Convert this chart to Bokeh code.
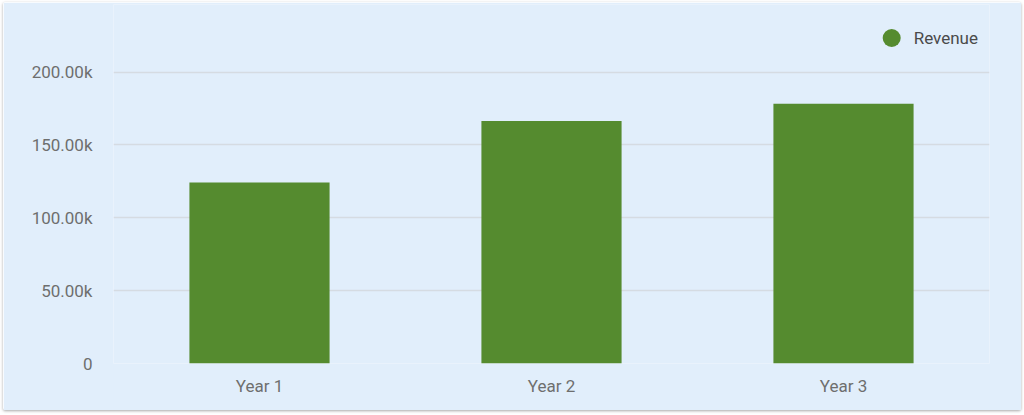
from bokeh.plotting import figure
from bokeh.models import Range1d, FixedTicker, Legend, LegendItem, ColumnDataSource
from bokeh.embed import file_html
from bokeh.resources import INLINE

# ---- data ----
categories = ["Year 1", "Year 2", "Year 3"]
revenue = [124200, 166400, 178200]
series_name = "Revenue"
y_ticks = [0, 50000, 100000, 150000, 200000]
y_tick_labels = ["0", "50.00k", "100.00k", "150.00k", "200.00k"]

BG = "#e1eefb"
BAR = "#558b2f"
FONT = "Roboto"

p = figure(
    x_range=categories,
    y_range=Range1d(0, 246400),
    width=1018,
    height=408,
    output_backend="svg",
    toolbar_location=None,
    min_border_left=110,
    min_border_right=32,
    min_border_top=2,
    min_border_bottom=47,
)
p.margin = (2, 0, 0, 3)
p.styles = {"box-shadow": "0 1px 3px rgba(0,0,0,0.35)", "border-radius": "2px"}
p.background_fill_color = BG
p.border_fill_color = BG
p.outline_line_color = None

src = ColumnDataSource(dict(cat=categories, val=revenue))
bars = p.vbar(x="cat", top="val", width=0.48, source=src,
              fill_color=BAR, line_color=None)

# legend marker (circle) - a renderer with no visible point, used only for the legend swatch
dummy_src = ColumnDataSource(dict(x=[categories[0]], y=[float("nan")]))
dummy = p.scatter(x="x", y="y", source=dummy_src, marker="circle", size=18,
                  fill_color=BAR, line_color=None)
legend = Legend(items=[LegendItem(label=series_name, renderers=[dummy])],
                location="top_right")
legend.glyph_width = 45
legend.glyph_height = 45
legend.label_standoff = -3
legend.padding = 0
legend.margin = 11
legend.spacing = 0
legend.border_line_color = None
legend.background_fill_alpha = 0
legend.label_text_font = FONT
legend.label_text_font_size = "17px"
legend.label_text_color = "#4a4a4a"
p.add_layout(legend)

# axes
p.yaxis.ticker = FixedTicker(ticks=y_ticks)
p.yaxis.major_label_overrides = {t: l for t, l in zip(y_ticks, y_tick_labels)}
for ax in (p.xaxis[0], p.yaxis[0]):
    ax.axis_line_color = None
    ax.major_tick_line_color = None
    ax.minor_tick_line_color = None
    ax.major_tick_out = 0
    ax.major_tick_in = 0
    ax.minor_tick_out = 0
    ax.major_label_text_font = FONT
    ax.major_label_text_font_size = "17px"
    ax.major_label_text_color = "#6e6e6e"
p.yaxis.major_label_standoff = 21
p.xaxis.major_label_standoff = 12

p.xgrid.grid_line_color = None
p.ygrid.ticker = FixedTicker(ticks=y_ticks)
p.ygrid.grid_line_color = "#d5dbe2"
p.ygrid.grid_line_width = 1.5

open("out.html", "w").write(file_html(p, INLINE))
